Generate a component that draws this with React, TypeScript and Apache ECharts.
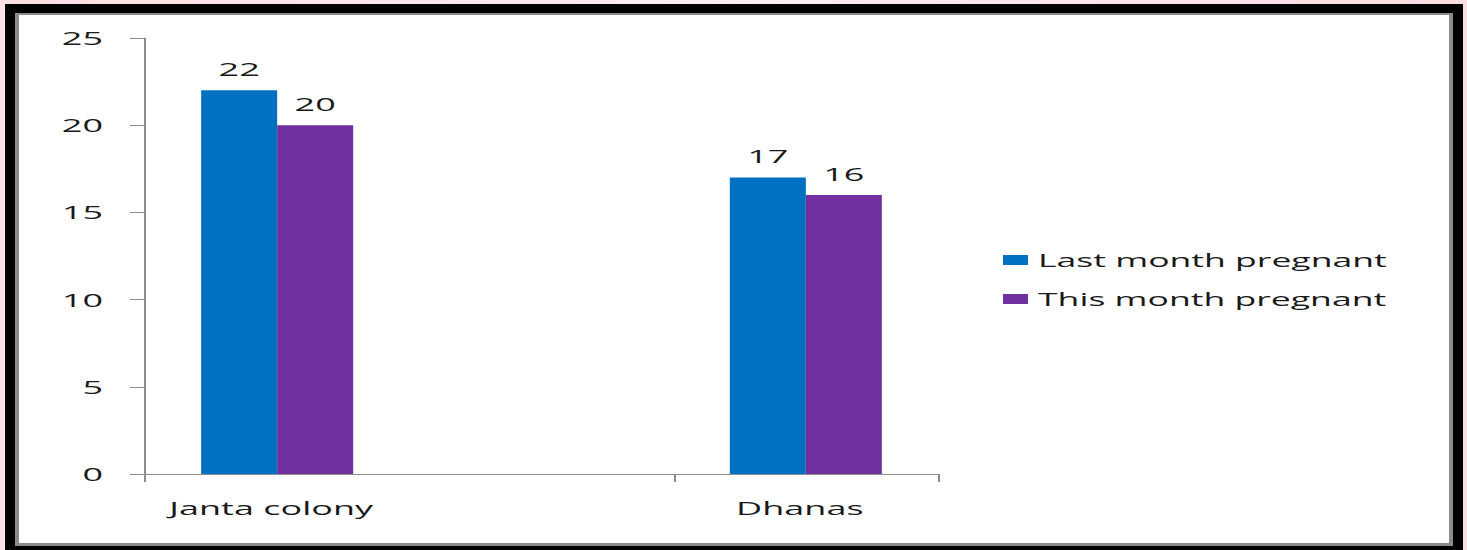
import React, { useEffect, useRef } from "react";
import * as echarts from "echarts";

const categories = ["Janta colony", "", "Dhanas"];
const lastMonthPregnant = [22, null, 17];
const thisMonthPregnant = [20, null, 16];
const seriesNames = ["Last month pregnant", "This month pregnant"];
const yMin = 0;
const yMax = 25;
const yInterval = 5;

const SX = 2;
const W = 1467;
const H = 550;
const FONT = "'Open Sans', Lato, sans-serif";

export default function App() {
  const ref = useRef<HTMLDivElement>(null);
  useEffect(() => {
    document.body.style.margin = "0";
    const chart = echarts.init(ref.current!, null, {
      renderer: "svg",
      width: W / SX,
      height: H,
    });
    const axisColor = "#8c8c8c";
    const txt = "#1a1a1a";
    chart.setOption({
      animation: false,
      textStyle: { fontFamily: FONT },
      grid: { left: 72.5, right: W / SX - 469, top: 38, bottom: H - 474, containLabel: false },
      legend: {
        orient: "vertical",
        left: 496.5,
        top: 246,
        padding: 5,
        icon: "rect",
        itemWidth: 12.5,
        itemHeight: 10,
        itemGap: 21,
        textStyle: { fontSize: 17.8, color: txt, fontFamily: FONT },
        data: seriesNames,
      },
      xAxis: {
        type: "category",
        data: categories,
        axisLine: { show: true, lineStyle: { color: axisColor, width: 1 } },
        axisTick: { show: true, length: 8, lineStyle: { color: axisColor } },
        axisLabel: { fontSize: 18, color: txt, margin: 25, padding: [0, 6, 0, 0], fontFamily: FONT },
        splitLine: { show: false },
      },
      yAxis: {
        type: "value",
        min: yMin,
        max: yMax,
        interval: yInterval,
        axisLine: { show: true, lineStyle: { color: axisColor, width: 1 } },
        axisTick: { show: true, length: 7.5, lineStyle: { color: axisColor } },
        axisLabel: { fontSize: 18, color: txt, margin: 21, fontFamily: FONT },
        splitLine: { show: false },
      },
      series: [
        {
          name: seriesNames[0],
          type: "bar",
          data: lastMonthPregnant,
          barWidth: 38,
          barGap: "0%",
          itemStyle: { color: "#0070C0" },
          label: { show: true, position: "top", distance: 12, fontSize: 18, color: txt, fontFamily: FONT },
        },
        {
          name: seriesNames[1],
          type: "bar",
          data: thisMonthPregnant,
          barWidth: 38,
          barGap: "0%",
          itemStyle: { color: "#7030A0" },
          label: { show: true, position: "top", distance: 12, fontSize: 18, color: txt, fontFamily: FONT },
        },
      ],
    });
    return () => chart.dispose();
  }, []);

  return (
    <div
      style={{
        position: "relative",
        width: W,
        height: H,
        overflow: "hidden",
        background: "linear-gradient(90deg, #fbe0e4 0%, #fdeef0 50%, #fbdde2 100%)",
      }}
    >
      <div style={{ position: "absolute", left: 5, top: 4, width: 1458, height: 560, background: "#000" }} />
      <div style={{ position: "absolute", left: 15, top: 13, width: 1438, height: 533, background: "#8a8a8a" }} />
      <div style={{ position: "absolute", left: 19, top: 15, width: 1430, height: 528, background: "#fff" }} />
      <div
        ref={ref}
        style={{
          position: "absolute",
          left: 0,
          top: 0,
          width: W / SX,
          height: H,
          transform: `scaleX(${SX})`,
          transformOrigin: "0 0",
        }}
      />
    </div>
  );
}
